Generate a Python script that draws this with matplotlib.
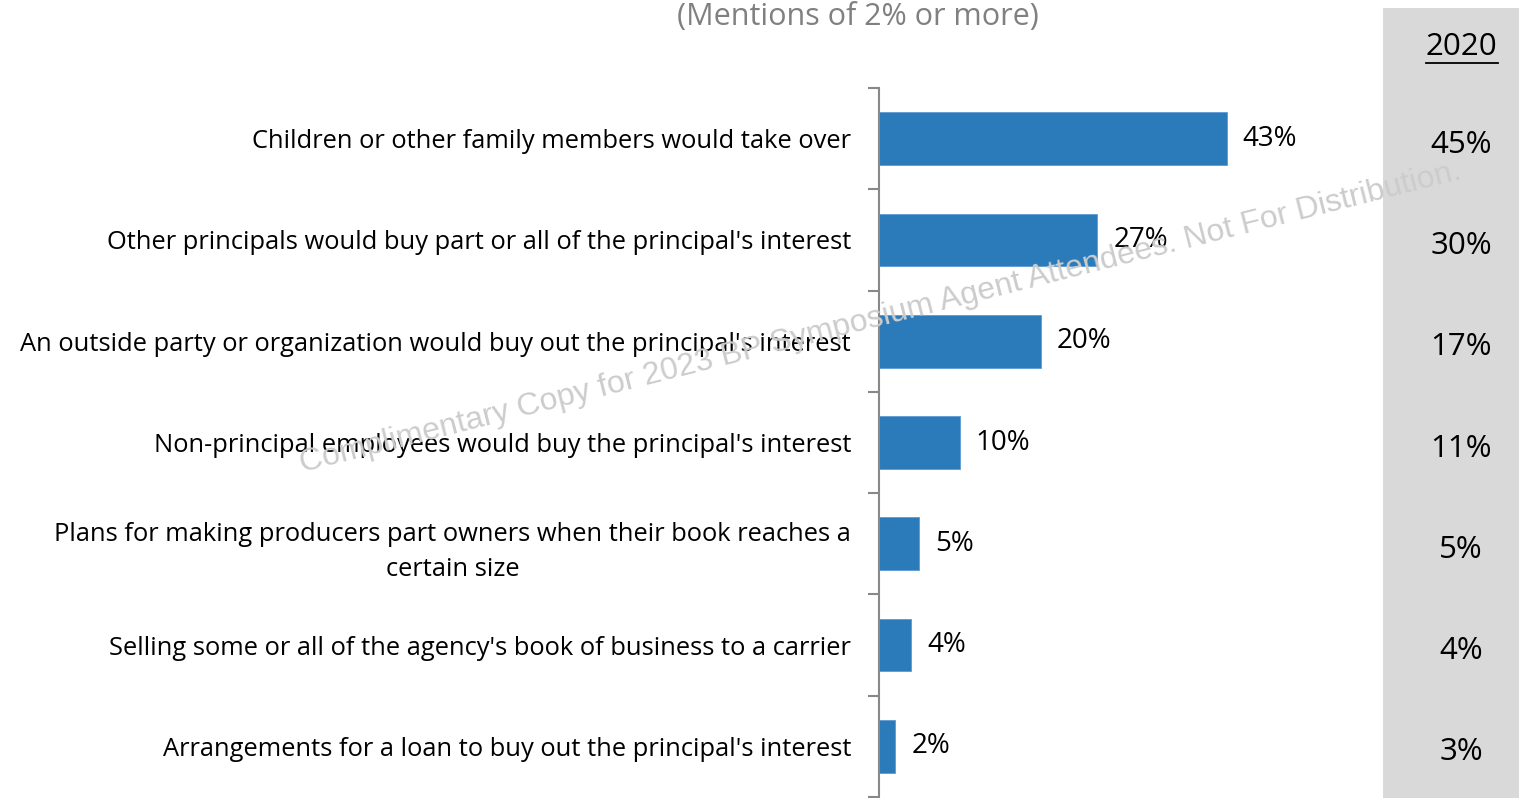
import matplotlib.pyplot as plt
import matplotlib.transforms as mtransforms
from matplotlib.patches import Rectangle
from matplotlib.lines import Line2D

plt.rcParams['font.family'] = ['Open Sans', 'DejaVu Sans']

# answers, top to bottom
categories = [
    "Children or other family members would take over",
    "Other principals would buy part or all of the principal's interest",
    "An outside party or organization would buy out the principal's interest",
    "Non-principal employees would buy the principal's interest",
    "Plans for making producers part owners when their book reaches a\ncertain size",
    "Selling some or all of the agency's book of business to a carrier",
    "Arrangements for a loan to buy out the principal's interest",
]
pct_2023 = [43, 27, 20, 10, 5, 4, 2]
pct_2020 = [45, 30, 17, 11, 5, 4, 3]
prior_year = "2020"
subtitle = "(Mentions of 2% or more)"
watermark = "Complimentary Copy for 2023 BP Symposium Agent Attendees. Not For Distribution."

W, H = 1519, 798
fig = plt.figure(figsize=(W / 100, H / 100), dpi=100)

# grey column holding the prior year numbers
fig.patches.append(Rectangle((1383 / W, 0), (W - 1383) / W, (H - 8) / H,
                             transform=fig.transFigure, facecolor='#d9d9d9',
                             edgecolor='none', zorder=-5))

ax = fig.add_axes([879 / W, 1 / H, 500 / W, 709 / H])
ax.patch.set_alpha(0)

y = list(range(len(categories)))
bars = ax.barh(y, pct_2023, height=0.52, color='#2b7bba', edgecolor='#5b9bd5',
               linewidth=0.6)
ax.set_ylim(len(categories) - 0.5, -0.5)
ax.set_xlim(0, 500 / 8.09)

for b, v in zip(bars, pct_2023):
    ax.annotate(f"{v}%", (b.get_width(), b.get_y() + b.get_height() / 2),
                xytext=(11.5, 0), textcoords='offset points', va='center',
                ha='left', fontsize=20, color='black')

# category labels
ax.set_yticks(y)
ax.set_yticklabels(categories, fontsize=18.4)
for lbl in ax.get_yticklabels():
    lbl.set_multialignment('center')
    lbl.set_linespacing(1.55)
ax.tick_params(axis='y', which='major', length=0, pad=20)
ax.set_yticks([i - 0.5 for i in range(len(categories) + 1)], minor=True)
ax.tick_params(axis='y', which='minor', length=8, width=1.5, color='#888888')
ax.set_xticks([])

for s in ['top', 'right', 'bottom']:
    ax.spines[s].set_visible(False)
ax.spines['left'].set_color('#888888')
ax.spines['left'].set_linewidth(1.5)

# prior year column
trans = mtransforms.blended_transform_factory(fig.transFigure, ax.transData)
cx = 1461 / W
for i, v in enumerate(pct_2020):
    fig.text(cx, i + 0.06, f"{v}%", transform=trans, ha='center', va='center',
             fontsize=22.5, color='black')
fig.text(cx, 1 - 47 / H, prior_year, ha='center', va='center', fontsize=22.5)
fig.add_artist(Line2D([1426 / W, 1498 / W], [1 - 63 / H, 1 - 63 / H],
                      transform=fig.transFigure, color='black', linewidth=1.3))

fig.text(858 / W, 1 - 2 / H, subtitle, ha='center', va='top',
         fontsize=22, color='#808080')

fig.text(880 / W, 1 - 318 / H, watermark, ha='center', va='center',
         rotation=14.2, rotation_mode='anchor', fontsize=23,
         family='Liberation Sans', color='#cccccc', zorder=10)

fig.savefig('out.png', dpi=100)
